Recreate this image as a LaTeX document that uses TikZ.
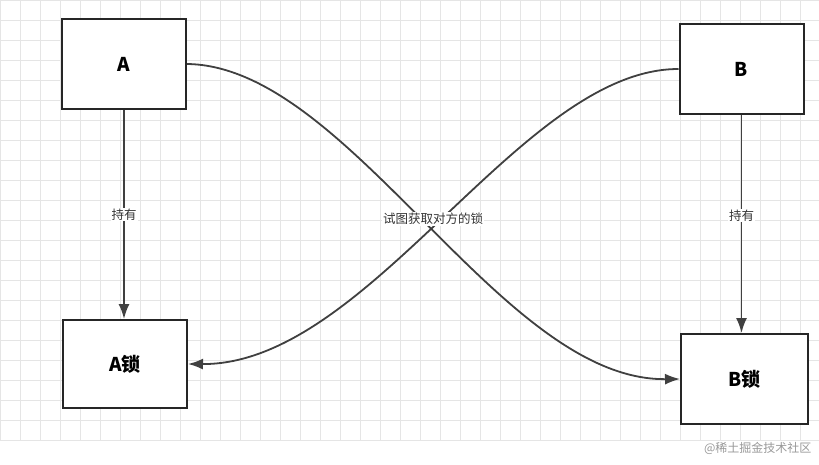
\documentclass[tikz,border=0pt]{standalone}
\usepackage{fontspec}
\setmainfont{Noto Sans CJK SC}
\usetikzlibrary{arrows.meta}
\begin{document}
\begin{tikzpicture}[x=1pt,y=-1pt,
  box/.style={draw=black!85,line width=2pt,fill=white,minimum width=124pt,minimum height=90pt,font=\bfseries\fontsize{19}{22}\selectfont},
  con/.style={draw=black!75,line width=1.8pt,-{Latex[length=15pt,width=11pt]}},
  lbl/.style={fill=white,inner sep=1pt,font=\fontsize{12.5}{14}\selectfont,text=black!80}]
\useasboundingbox (0,0) rectangle (819,465);
\fill[white] (0,0) rectangle (819,465);
\foreach \i in {0,...,40} {\draw[black!10,line width=0.6pt] (\i*20,0) -- (\i*20,440);}
\foreach \j in {0,...,22} {\draw[black!10,line width=0.6pt] (0,\j*20) -- (819,\j*20);}
\node[box] (A) at (124,64) {A};
\node[box] (B) at (741.5,69) {B};
\node[box,minimum height=88pt] (AL) at (125,364) {A锁};
\node[box,minimum width=127pt] (BL) at (744.5,379) {B锁};
\draw[con] (A.south) -- node[lbl] {持有} (A.south |- AL.north);
\draw[con] (B.south) -- node[lbl,pos=0.46] {持有} (B.south |- BL.north);
\draw[con] (A.east) .. controls (350,66) and (500,381) .. (BL.west);
\draw[con] (B.west) .. controls (520,69) and (370,365) .. (AL.east);
\node[lbl] (T) at (433,219) {试图获取对方的锁};
\node[text=black!40,font=\fontsize{12}{14}\selectfont,anchor=east] (W) at (815,448) {@稀土掘金技术社区};
\end{tikzpicture}
\end{document}
